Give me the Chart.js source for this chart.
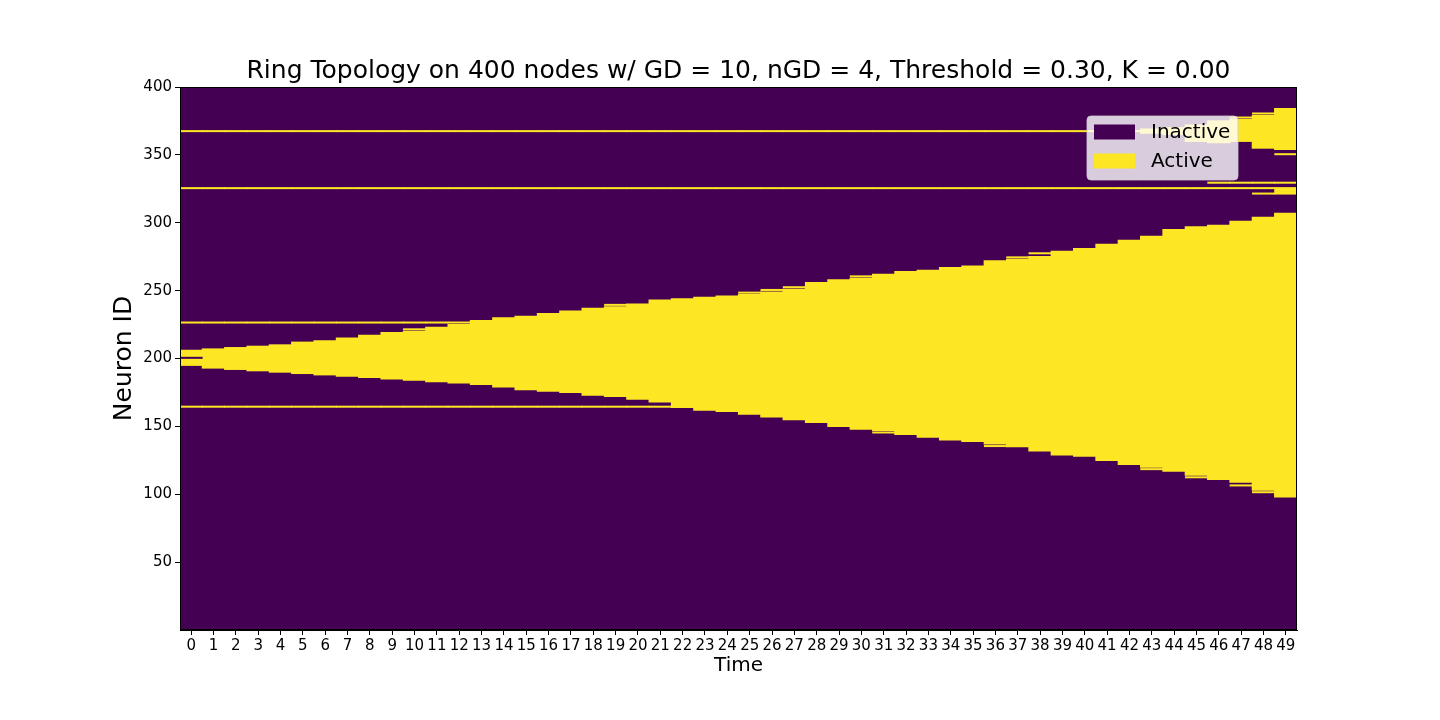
<!DOCTYPE html>
<html>
<head>
<meta charset="utf-8">
<title>Ring Topology</title>
<script src="https://cdn.jsdelivr.net/npm/chart.js@4.4.1/dist/chart.umd.min.js"></script>
<style>
  html, body { margin: 0; padding: 0; background: #fff; }
  #wrap { width: 1440px; height: 720px; }
</style>
</head>
<body>
<div id="wrap"><canvas id="raster" width="1440" height="720"></canvas></div>
<script>
// Time steps (x categories)
const timeSteps = ['0','1','2','3','4','5','6','7','8','9','10','11','12','13','14','15','16','17','18','19',
    '20','21','22','23','24','25','26','27','28','29','30','31','32','33','34','35','36','37','38','39',
    '40','41','42','43','44','45','46','47','48','49'];

const neuronCount = 400;
const neuronTicks = [50, 100, 150, 200, 250, 300, 350, 400];

// Main active band: lowest / highest active neuron at each time step
const bandLow = [195, 193, 192, 191, 190, 189, 188, 187, 186, 185,
    184, 183, 182, 181, 179, 177, 176, 175, 173, 172,
    170, 168, 164, 162, 161, 159, 157, 155, 153, 150,
    148, 147, 144, 142, 140, 139, 137, 135, 132, 129,
    128, 125, 122, 120, 117, 114, 111, 109, 103, 98];
const bandHigh = [206, 207, 208, 209, 210, 212, 213, 215, 217, 219,
    220, 223, 225, 228, 230, 231, 233, 235, 237, 238,
    240, 243, 244, 245, 246, 247, 249, 251, 256, 258,
    259, 262, 264, 265, 267, 268, 272, 273, 275, 279,
    281, 284, 287, 290, 295, 297, 298, 301, 304, 307];

// Second active cluster near the top (only late time steps)
const clusterTimes = ['43', '44', '45', '46', '47', '48', '49'];
const clusterLow = [366, 365, 360, 359, 360, 355, 354];
const clusterHigh = [369, 370, 372, 375, 376, 379, 384];

// Neurons that stay active for the whole run
const steadyRows = [164, 226, 325, 367];

// Single active neurons just outside the bands
const spotTimes = ['10', '19', '25', '26', '27', '30', '31', '36', '37', '38', '43', '45', '47', '48',
    '46', '47', '48', '49', '48', '49', '49', '49', '49', '47', '48', '49'];
const spotRows = [221, 239, 248, 250, 252, 260, 145, 135, 274, 277, 118, 112, 106, 101,
    329, 329, 329, 329, 321, 321, 322, 323, 324, 377, 380, 350];

// Single inactive neurons inside a band
const holeTimes = ['0'];
const holeRows = [200];

const INACTIVE = '#440154';
const ACTIVE = '#fde725';
const FONT = 'DejaVu Sans';

function rowBars(times, rows) {
    return times.map((t, i) => ({ x: t, y: [rows[i], rows[i] + 1] }));
}

const steadyBars = [];
steadyRows.forEach(r => {
    timeSteps.forEach(t => steadyBars.push({ x: t, y: [r, r + 1] }));
});

// legend drawn inside the plot, upper right, like the original
const innerLegend = {
    id: 'innerLegend',
    afterDraw(chart) {
        const ctx = chart.ctx;
        const items = chart.data.datasets.filter(d => d.legend);
        const x = 1087, y = 116, w = 151, h = 64;
        ctx.save();
        ctx.beginPath();
        ctx.roundRect(x, y, w, h, 4);
        ctx.fillStyle = 'rgba(255,255,255,0.8)';
        ctx.fill();
        ctx.strokeStyle = 'rgba(204,204,204,0.8)';
        ctx.lineWidth = 1;
        ctx.stroke();
        ctx.font = '20px "' + FONT + '"';
        ctx.textBaseline = 'middle';
        items.forEach((d, i) => {
            const cy = y + 16 + i * 29;
            ctx.fillStyle = d.backgroundColor;
            ctx.fillRect(x + 7, cy - 7.5, 41, 15);
            ctx.fillStyle = '#000';
            ctx.fillText(d.label, x + 64, cy + 1);
        });
        ctx.restore();
    }
};

// centre the title over the plot area rather than over the whole canvas
const titleOverPlot = {
    id: 'titleOverPlot',
    afterLayout(chart) {
        const t = chart.titleBlock;
        const a = chart.chartArea;
        if (t) {
            t.left = a.left;
            t.right = a.right;
            t.width = a.right - a.left;
        }
    }
};

const plotFrame = {
    id: 'plotFrame',
    afterDatasetsDraw(chart) {
        const a = chart.chartArea;
        const ctx = chart.ctx;
        ctx.save();
        ctx.strokeStyle = '#000';
        ctx.lineWidth = 1;
        ctx.strokeRect(a.left + 0.5, a.top + 0.5, a.right - a.left - 1, a.bottom - a.top - 1);
        ctx.restore();
    }
};

const barBase = { barPercentage: 1, categoryPercentage: 1, borderWidth: 0, grouped: false };

new Chart(document.getElementById('raster'), {
    type: 'bar',
    data: {
        labels: timeSteps,
        datasets: [
            Object.assign({ label: 'Inactive', legend: true, order: 5, backgroundColor: INACTIVE,
                data: timeSteps.map(() => [0, neuronCount]) }, barBase, { inflateAmount: 0.8 }),
            Object.assign({ label: 'Active', legend: true, order: 4, backgroundColor: ACTIVE,
                data: bandLow.map((lo, i) => [lo, bandHigh[i]]) }, barBase, { inflateAmount: 0.6 }),
            Object.assign({ label: 'cluster', order: 3, backgroundColor: ACTIVE,
                data: clusterTimes.map((t, i) => ({ x: t, y: [clusterLow[i], clusterHigh[i]] })) },
                barBase, { inflateAmount: 0.6 }),
            Object.assign({ label: 'steady', order: 2, backgroundColor: ACTIVE, data: steadyBars }, barBase),
            Object.assign({ label: 'spots', order: 2, backgroundColor: ACTIVE,
                data: rowBars(spotTimes, spotRows) }, barBase),
            Object.assign({ label: 'holes', order: 1, backgroundColor: INACTIVE,
                data: rowBars(holeTimes, holeRows) }, barBase)
        ]
    },
    options: {
        responsive: false,
        animation: false,
        events: [],
        layout: { padding: { top: 56, right: 143, bottom: 0, left: 0 } },
        plugins: {
            legend: { display: false },
            tooltip: { enabled: false },
            title: {
                display: true,
                text: 'Ring Topology on 400 nodes w/ GD = 10, nGD = 4, Threshold = 0.30, K = 0.00',
                color: '#000',
                font: { family: FONT, size: 25, weight: 'normal' },
                padding: { top: 0, bottom: 1 }
            }
        },
        scales: {
            x: {
                type: 'category',
                offset: true,
                grid: { display: true, drawOnChartArea: false, offset: false, tickLength: 5, color: '#000' },
                border: { display: true, color: '#000' },
                ticks: { color: '#000', font: { family: FONT, size: 15 }, padding: 2,
                    autoSkip: false, maxRotation: 0, minRotation: 0 },
                title: { display: true, text: 'Time', color: '#000',
                    font: { family: FONT, size: 20 }, padding: { top: 0, bottom: 42 } },
                afterFit(scale) { scale.height = 90; }
            },
            y: {
                type: 'linear',
                min: 0,
                max: neuronCount,
                afterBuildTicks(scale) { scale.ticks = neuronTicks.map(v => ({ value: v })); },
                grid: { display: true, drawOnChartArea: false, tickLength: 5, color: '#000' },
                border: { display: true, color: '#000' },
                ticks: { color: '#000', font: { family: FONT, size: 15 }, padding: 3 },
                title: { display: true, text: 'Neuron ID', color: '#000',
                    font: { family: FONT, size: 25 }, padding: { top: 109, bottom: 0 } },
                afterFit(scale) { scale.width = 180; }
            }
        }
    },
    plugins: [innerLegend, titleOverPlot, plotFrame]
});
</script>
</body>
</html>
